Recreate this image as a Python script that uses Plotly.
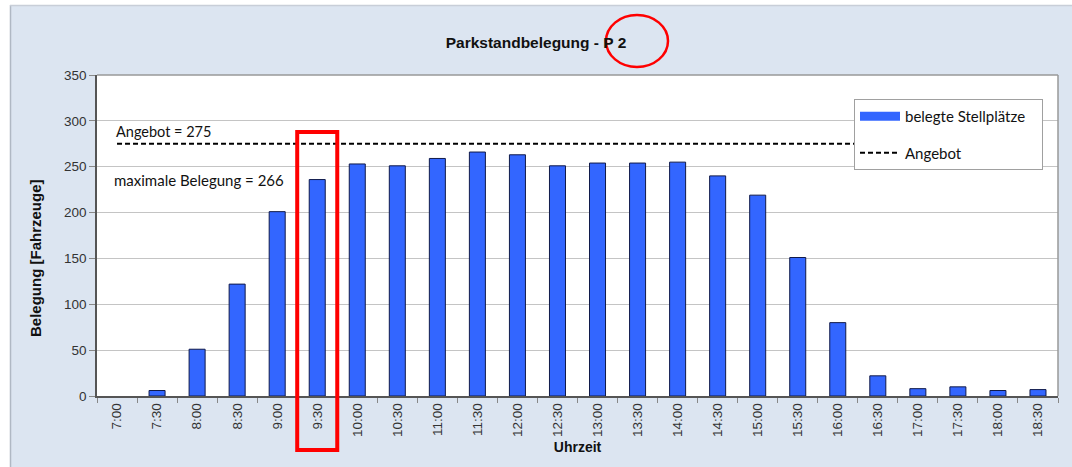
import plotly.graph_objects as go

# ---- data ----
zeiten = ["7:00", "7:30", "8:00", "8:30", "9:00", "9:30", "10:00", "10:30", "11:00", "11:30",
          "12:00", "12:30", "13:00", "13:30", "14:00", "14:30", "15:00", "15:30", "16:00", "16:30",
          "17:00", "17:30", "18:00", "18:30"]
belegt = [0, 6, 51, 122, 201, 236, 253, 251, 259, 266,
          263, 251, 254, 254, 255, 240, 219, 151, 80, 22,
          8, 10, 6, 7]
angebot = 275
max_belegung = max(belegt)
y_ticks = [0, 50, 100, 150, 200, 250, 300, 350]

# ---- layout geometry ----
W, H = 1072, 467
L, R, T, B = 97, 14, 75, 71
PW, PH = W - L - R, H - T - B


def px(x):
    return (x - L) / PW


def py(y):
    return (H - B - y) / PH


n = len(zeiten)
ARIAL = "Arial, Liberation Sans, sans-serif"
CALI = "Lato, Open Sans, sans-serif"
BLUE = "#3366ff"
PAD = "\u00a0" * 3  # widen legend box like the original

fig = go.Figure()
fig.add_trace(go.Bar(
    x=zeiten, y=belegt, name="belegte Stellplätze", showlegend=False,
    marker=dict(color=BLUE, line=dict(color="#101a4a", width=[0 if v == 0 else 1 for v in belegt])),
))
# legend entry for bars (wide swatch like the original)
fig.add_trace(go.Scatter(
    x=[None], y=[None], mode="lines", name="belegte Stellplätze" + PAD,
    line=dict(color=BLUE, width=9), legendgroup="a",
))
fig.add_trace(go.Scatter(
    x=zeiten, y=[angebot] * n, mode="lines", name="Angebot",
    line=dict(color="black", width=2, dash="5px,3px"),
    legendgroup="b",
))

shapes = [
    # outer frame: white strips left/top, gray border
    dict(type="rect", xref="paper", yref="paper", x0=px(-5), x1=px(10), y0=py(H + 5), y1=py(-5),
         fillcolor="white", line=dict(width=0), layer="below"),
    dict(type="rect", xref="paper", yref="paper", x0=px(-5), x1=px(W + 5), y0=py(5), y1=py(-5),
         fillcolor="white", line=dict(width=0), layer="below"),
    dict(type="line", xref="paper", yref="paper", x0=px(10.5), x1=px(10.5), y0=py(5), y1=py(H + 5),
         line=dict(color="#b0b8c4", width=1.5)),
    dict(type="line", xref="paper", yref="paper", x0=px(10), x1=px(W + 5), y0=py(5.5), y1=py(5.5),
         line=dict(color="#c8ced8", width=1.5)),
    # gray top/right border of plot area
    dict(type="line", xref="paper", yref="paper", x0=0, x1=1, y0=1, y1=1,
         line=dict(color="#999", width=1.5)),
    dict(type="line", xref="paper", yref="paper", x0=1, x1=1, y0=0, y1=1,
         line=dict(color="#999", width=1.5)),
    # red highlight rectangle around 9:30
    dict(type="rect", xref="paper", yref="paper",
         x0=5 / n, x1=6 / n, y0=py(450), y1=py(132),
         line=dict(color="#ff0000", width=4), fillcolor="rgba(0,0,0,0)"),
    # red ellipse around "- P 2"
    dict(type="circle", xref="paper", yref="paper",
         x0=px(606), x1=px(668), y0=py(67), y1=py(15),
         line=dict(color="#ff0000", width=2.5), fillcolor="rgba(0,0,0,0)"),
]

annotations = [
    dict(text=f"Angebot = {angebot}", xref="paper", yref="paper", x=px(114), y=py(131),
         xanchor="left", yanchor="middle", showarrow=False,
         font=dict(family=CALI, size=14.5, color="#111")),
    dict(text=f"maximale Belegung = {max_belegung}", xref="paper", yref="paper", x=px(112), y=py(180),
         xanchor="left", yanchor="middle", showarrow=False,
         font=dict(family=CALI, size=15, color="#111")),
    dict(text="<b>Belegung [Fahrzeuge]</b>", xref="paper", yref="paper", x=px(35), y=py(258),
         xanchor="center", yanchor="middle", textangle=-90, showarrow=False,
         font=dict(family=ARIAL, size=15, color="#111")),
]

fig.update_layout(
    width=W, height=H,
    margin=dict(l=L, r=R, t=T, b=B, pad=0),
    paper_bgcolor="#dce5f1",
    plot_bgcolor="white",
    bargap=0.6,
    title=dict(text="<b>Parkstandbelegung - P 2</b>", x=0.5, xref="container", xanchor="center",
               y=1 - 43 / H, yref="container", yanchor="middle",
               font=dict(family=ARIAL, size=15.5, color="#111")),
    font=dict(family=ARIAL, size=12, color="#222"),
    showlegend=True,
    legend=dict(x=px(854), y=py(99), xanchor="left", yanchor="top",
                bgcolor="white", bordercolor="#a0a0a0", borderwidth=1,
                font=dict(family=CALI, size=15, color="#111"),
                tracegroupgap=14, itemwidth=40, traceorder="grouped"),
    shapes=shapes,
    annotations=annotations,
)

fig.update_xaxes(
    type="category", tickangle=-90, tickson="boundaries", ticks="outside", ticklen=5,
    tickcolor="#888", showline=True, linecolor="#555", linewidth=1.5, mirror=False,
    showgrid=False,
    tickfont=dict(family=ARIAL, size=13.5, color="#333"),
    title=dict(text="<b>Uhrzeit</b>", standoff=6,
               font=dict(family=ARIAL, size=14, color="#111")),
)
fig.update_yaxes(
    range=[0, 350], tickvals=y_ticks, ticks="outside", ticklen=6, tickcolor="#888",
    showline=True, linecolor="#555", linewidth=1.5, showgrid=True, gridcolor="#c4c4c4",
    zeroline=False,
    tickfont=dict(family=ARIAL, size=13.5, color="#333"),
)

fig.write_html("out.html", config={"displayModeBar": False},
               post_script="document.body.style.margin='0';")
